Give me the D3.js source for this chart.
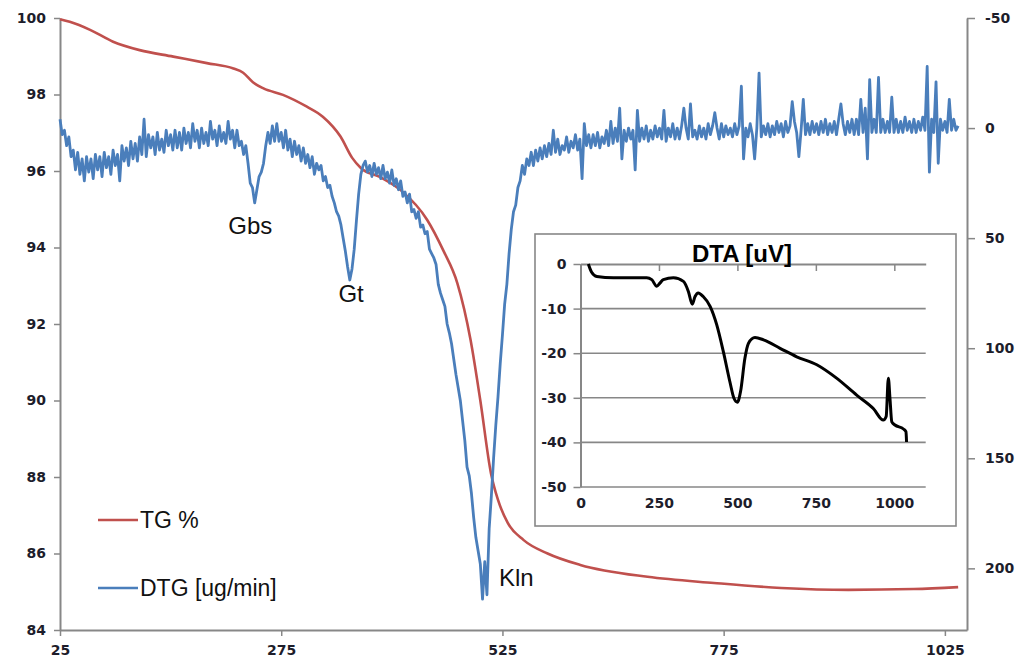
<!DOCTYPE html>
<html>
<head>
<meta charset="utf-8">
<script src="https://cdn.jsdelivr.net/npm/d3@7"></script>
<style>
  body { margin: 0; background: #fff; }
  text { font-family: "DejaVu Sans", Verdana, sans-serif; }
</style>
</head>
<body>
<div id="chart"></div>
<script>
// TG [%] vs temperature, left axis
var tgData = [
  [25, 99.97], [36, 99.9], [59, 99.69], [85, 99.38], [115, 99.16], [153, 98.99],
  [191, 98.82], [221, 98.68], [232, 98.57], [243, 98.32], [255, 98.16], [277, 97.99],
  [304, 97.68], [322, 97.42], [342, 96.9], [355, 96.35], [365, 96.08], [387, 95.84],
  [410, 95.5], [440, 94.72], [458, 93.93], [474, 93.07], [489, 91.58], [500, 90.0],
  [512, 88.1], [520, 87.4], [531, 86.8], [549, 86.35], [576, 86.0], [613, 85.7],
  [689, 85.39], [764, 85.23], [840, 85.1], [916, 85.05], [990, 85.07], [1040, 85.12]
];

// DTG [ug/min], right axis (reversed): one reading every 2.5 degC from 25 degC
var dtgStart = 25, dtgStep = 2.5;
var dtgVal = [
  -4, 3, 1, 8, 4, 13, 10, 19, 11, 21, 14, 24, 13, 20, 14, 23, 12, 19, 13, 22,       // 25
  11, 18, 13, 21, 10, 17, 12, 24, 8, 15, 9, 17, 6, 14, 7, 15, 4, 12, -4, 13,        // 75
  3, 9, 4, 12, 2, 10, 5, 11, 1, 8, 3, 10, 1, 9, 2, 10, 0, 7, 2, 9,                  // 125
  -2, 6, 1, 9, 0, 7, 2, 8, -3, 5, 1, 8, -1, 6, 2, 7, -3, 5, 1, 9,                   // 175
  1, 8, 6, 12, 8, 16, 25, 27, 34, 28, 22, 20, 16, 8, 2, 7, -1, 6, -2, 6,            // 225
  2, 9, 1, 10, 5, 13, 6, 12, 8, 15, 9, 16, 12, 18, 13, 21, 16, 19, 17, 24,          // 275
  22, 27, 26, 31, 34, 38, 40, 44, 50, 56, 63, 69, 64, 55, 42, 30, 21, 17, 15, 20,   // 325
  17, 22, 16, 21, 18, 23, 17, 23, 20, 25, 19, 26, 23, 28, 24, 31, 29, 34, 30, 38,   // 375
  37, 41, 38, 45, 44, 48, 47, 55, 57, 59, 62, 71, 75, 78, 81, 89, 93, 98, 105, 112, // 425
  118, 124, 133, 142, 154, 158, 166, 177, 186, 192, 198, 214, 197, 212, 182, 167, 150, 135, 122, 107, // 475
  94, 80, 71, 57, 46, 38, 35, 27, 24, 17, 21, 14, 17, 11, 17, 10, 15, 9, 14, 8,     // 525
  13, 7, 12, 1, 11, 5, 12, 8, 10, 4, 11, 6, 9, 3, 10, 5, 23, -2, 8, 3,              // 575
  9, 3, 8, 2, 9, 4, 7, 1, 8, -3, 7, 0, 6, -9, 14, 1, 6, 0, 5, 1,                    // 625
  19, -8, 6, 0, 5, -1, 6, 1, 5, -1, 4, 0, 5, -8, 6, 0, 4, -2, 5, 0,                 // 675
  5, -1, -9, 0, 5, -11, 4, 1, 5, -1, 4, 0, 5, -2, 3, -1, -7, 0, 5, -2,              // 725
  4, -1, 3, 0, 4, -2, 3, -1, -19, 14, 0, 4, -2, 3, 14, 0, -25, 4, -1, 3,            // 775
  -2, 4, -1, 3, -3, 2, -2, 4, -3, 2, -1, -12, -3, 2, 13, 1, -13, 3, -2, 3,          // 825
  -3, 2, -2, 3, -3, 2, -4, 3, -2, 2, -3, 3, -4, -11, -2, 3, -3, 2, -4, 3,           // 875
  -4, 3, -13, 2, -9, 14, -22, 2, -4, 2, -23, 2, -4, 2, -3, 2, -14, 2, -4, 2,        // 925
  -3, 2, -5, 1, -3, 2, -4, 2, -3, 1, -5, 1, -28, 20, -4, 2, -21, 16, -4, 1,         // 975
  -3, 2, -13, 1, -4, 1, -1                                                          // 1025
];

// DTA [uV] inset
var dtaData = [
  [25, 0], [35, -1.8], [52, -2.8], [105, -3.1], [211, -3.1], [227, -3.5], [243, -5.0],
  [253, -4.3], [264, -3.5], [296, -3.1], [328, -3.9], [344, -6.2], [356, -9.0],
  [365, -7.3], [375, -6.5], [391, -7.3], [413, -9.5], [434, -13.6], [455, -19.6],
  [476, -26.4], [489, -30.1], [500, -31.0], [510, -28.6], [524, -21.1], [535, -17.8],
  [556, -16.5], [583, -17.0], [636, -18.9], [689, -20.8], [753, -22.6], [816, -25.6],
  [880, -29.4], [933, -32.4], [965, -35.0], [974, -34.2], [981, -25.6], [986, -30],
  [992, -35.4], [1002, -36.1], [1029, -37.0], [1037, -37.6], [1039, -39.9]
];

var xTicks = [25, 275, 525, 775, 1025];
var tgTicks = [84, 86, 88, 90, 92, 94, 96, 98, 100];
var dtgTicks = [-50, 0, 50, 100, 150, 200];
var dtaXTicks = [0, 250, 500, 750, 1000];
var dtaYTicks = [0, -10, -20, -30, -40, -50];

// peak labels, anchored at [temperature, DTG value]
var peakLabels = [
  { name: "Gbs", t: 240, v: 48, anchor: "middle" },
  { name: "Gt", t: 354, v: 79, anchor: "middle" },
  { name: "Kln", t: 521, v: 208, anchor: "start" }
];
var seriesNames = ["TG %", "DTG [ug/min]"];

var width = 1016, height = 666;
var red = "#c0504d", blue = "#4a7ebb", grey = "#878787";
var plain = function (d) { return String(d); };

var dtgData = dtgVal.map(function (v, i) { return [dtgStart + i * dtgStep, v]; });

var svg = d3.select("#chart").append("svg")
  .attr("width", width).attr("height", height);

var x = d3.scaleLinear().domain([25, 1050]).range([60, 967]);
var yTG = d3.scaleLinear().domain([84, 100]).range([630, 18]);
var yDTG = d3.scaleLinear().domain([-50, 228]).range([18, 630]);

function styleAxis(g, size) {
  g.attr("font-family", "DejaVu Sans, Verdana, sans-serif").attr("font-size", size);
  g.select(".domain").attr("stroke", grey).attr("stroke-width", 2);
  g.selectAll(".tick line").attr("stroke", grey).attr("stroke-width", 1.5);
  g.selectAll(".tick text").attr("fill", "#1d1d2b").attr("font-weight", "bold");
}

// main axes
svg.append("g").attr("transform", "translate(0,630)")
  .call(d3.axisBottom(x).tickValues(xTicks).tickFormat(plain)
    .tickSize(6).tickSizeOuter(0).tickPadding(9))
  .call(styleAxis, 14);
svg.append("g").attr("transform", "translate(60,0)")
  .call(d3.axisLeft(yTG).tickValues(tgTicks).tickFormat(plain)
    .tickSize(6).tickSizeOuter(0).tickPadding(8))
  .call(styleAxis, 14);
svg.append("g").attr("transform", "translate(967,0)")
  .call(d3.axisRight(yDTG).tickValues(dtgTicks).tickFormat(plain)
    .tickSize(8).tickSizeOuter(0).tickPadding(10))
  .call(styleAxis, 14);

// TG + DTG curves
var tgLine = d3.line()
  .x(function (d) { return x(d[0]); })
  .y(function (d) { return yTG(d[1]); })
  .curve(d3.curveMonotoneX);
var dtgLine = d3.line()
  .x(function (d) { return x(d[0]); })
  .y(function (d) { return yDTG(d[1]); });

svg.append("path").datum(tgData)
  .attr("d", tgLine).attr("fill", "none")
  .attr("stroke", red).attr("stroke-width", 2.6);
svg.append("path").datum(dtgData)
  .attr("d", dtgLine).attr("fill", "none")
  .attr("stroke", blue).attr("stroke-width", 2.8)
  .attr("stroke-linejoin", "round");

// peak labels
svg.selectAll(".peak").data(peakLabels).enter().append("text")
  .attr("class", "peak")
  .attr("x", function (d) { return x(d.t); })
  .attr("y", function (d) { return yDTG(d.v); })
  .attr("text-anchor", function (d) { return d.anchor; })
  .style("font-family", "Liberation Sans, Arial, sans-serif")
  .style("font-size", "24px")
  .attr("fill", "#111")
  .text(function (d) { return d.name; });

// legend
var legend = svg.append("g").attr("transform", "translate(98,520)");
seriesNames.forEach(function (name, i) {
  var row = legend.append("g").attr("transform", "translate(0," + i * 68 + ")");
  row.append("line").attr("x1", 0).attr("x2", 40)
    .attr("stroke", i == 0 ? red : blue).attr("stroke-width", 2.6);
  row.append("text").attr("x", 42).attr("y", 8)
    .style("font-family", "Liberation Sans, Arial, sans-serif")
    .style("font-size", "23px").attr("fill", "#111")
    .text(name);
});

// DTA inset
var inset = svg.append("g");
inset.append("rect")
  .attr("x", 535).attr("y", 234).attr("width", 421).attr("height", 292)
  .attr("fill", "#fff").attr("stroke", grey).attr("stroke-width", 1.6);

var ix = d3.scaleLinear().domain([0, 1100]).range([580.5, 925.7]);
var iy = d3.scaleLinear().domain([-50, 0]).range([487, 264]);

inset.append("g").selectAll("line")
  .data(dtaYTicks.filter(function (d) { return d != 0; }))
  .enter().append("line")
  .attr("x1", ix(0)).attr("x2", ix(1100))
  .attr("y1", function (d) { return iy(d); })
  .attr("y2", function (d) { return iy(d); })
  .attr("stroke", grey).attr("stroke-width", 1.6);

inset.append("g").attr("transform", "translate(" + ix(0) + ",0)")
  .call(d3.axisLeft(iy).tickValues(dtaYTicks).tickFormat(plain)
    .tickSize(7).tickSizeOuter(0).tickPadding(7))
  .call(styleAxis, 14);
// horizontal axis crosses at 0, labels sit low
inset.append("g").attr("transform", "translate(0," + iy(0) + ")")
  .call(d3.axisBottom(ix).tickValues(dtaXTicks).tickSize(7).tickSizeOuter(0).tickFormat(""))
  .call(styleAxis, 14);
inset.append("g").attr("transform", "translate(0," + iy(-50) + ")")
  .call(d3.axisBottom(ix).tickValues(dtaXTicks).tickFormat(plain).tickSize(0).tickPadding(11))
  .call(styleAxis, 14)
  .call(function (g) { g.select(".domain").remove(); });

var dtaLine = d3.line()
  .x(function (d) { return ix(d[0]); })
  .y(function (d) { return iy(d[1]); })
  .curve(d3.curveMonotoneX);
inset.append("path").datum(dtaData)
  .attr("d", dtaLine).attr("fill", "none")
  .attr("stroke", "#000").attr("stroke-width", 3)
  .attr("stroke-linejoin", "round");

inset.append("text")
  .attr("x", 742).attr("y", 262)
  .attr("text-anchor", "middle")
  .style("font-family", "Liberation Sans, Arial, sans-serif")
  .style("font-size", "24px").style("font-weight", "bold")
  .attr("fill", "#000")
  .text("DTA [uV]");
</script>
</body>
</html>
